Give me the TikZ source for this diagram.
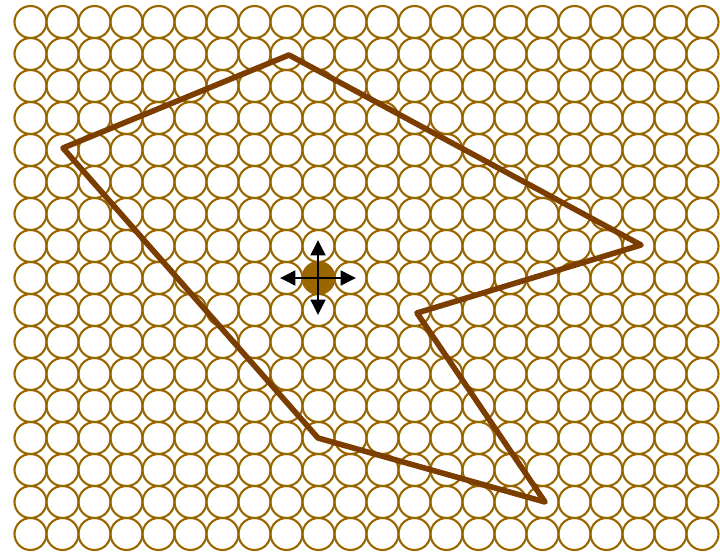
\documentclass[tikz,border=0pt]{standalone}
\usepackage{tikz}
\usetikzlibrary{arrows.meta}

\definecolor{cellbrown}{RGB}{153,102,0}
\definecolor{pathbrown}{RGB}{123,61,0}

\begin{document}
\begin{tikzpicture}[
  x=0.03cm, y=-0.03cm,
  cell/.style={draw=cellbrown, line width=1.8pt},
  outline/.style={draw=pathbrown, line width=4.8pt, line join=round},
  pivot/.style={circle, fill=cellbrown, minimum size=0.96cm, inner sep=0pt},
  move/.style={-{Triangle[length=4.6mm,width=4.4mm]}, line width=2.2pt, black}
]
\useasboundingbox (0,0) rectangle (720,554);

% grid of circles
\foreach \i in {0,...,21}
  \foreach \j in {0,...,16}
    \draw[cell] (30.5+32*\i, 22+32*\j) circle (0.48cm);

% polygon corners
\coordinate (c1) at (63,148);
\coordinate (c2) at (289,55);
\coordinate (c3) at (641,245);
\coordinate (c4) at (417,313);
\coordinate (c5) at (545,502);
\coordinate (c6) at (318,438);
\draw[outline] (c1) -- (c2) -- (c3) -- (c4) -- (c5) -- (c6) -- cycle;

% centre with move arrows
\node[pivot] (centre) at (318,278) {};
\coordinate (up)    at (318,240);
\coordinate (down)  at (318,315);
\coordinate (left)  at (280,278);
\coordinate (right) at (356,278);
\draw[move] (centre.center) -- (up);
\draw[move] (centre.center) -- (down);
\draw[move] (centre.center) -- (left);
\draw[move] (centre.center) -- (right);
\end{tikzpicture}
\end{document}
